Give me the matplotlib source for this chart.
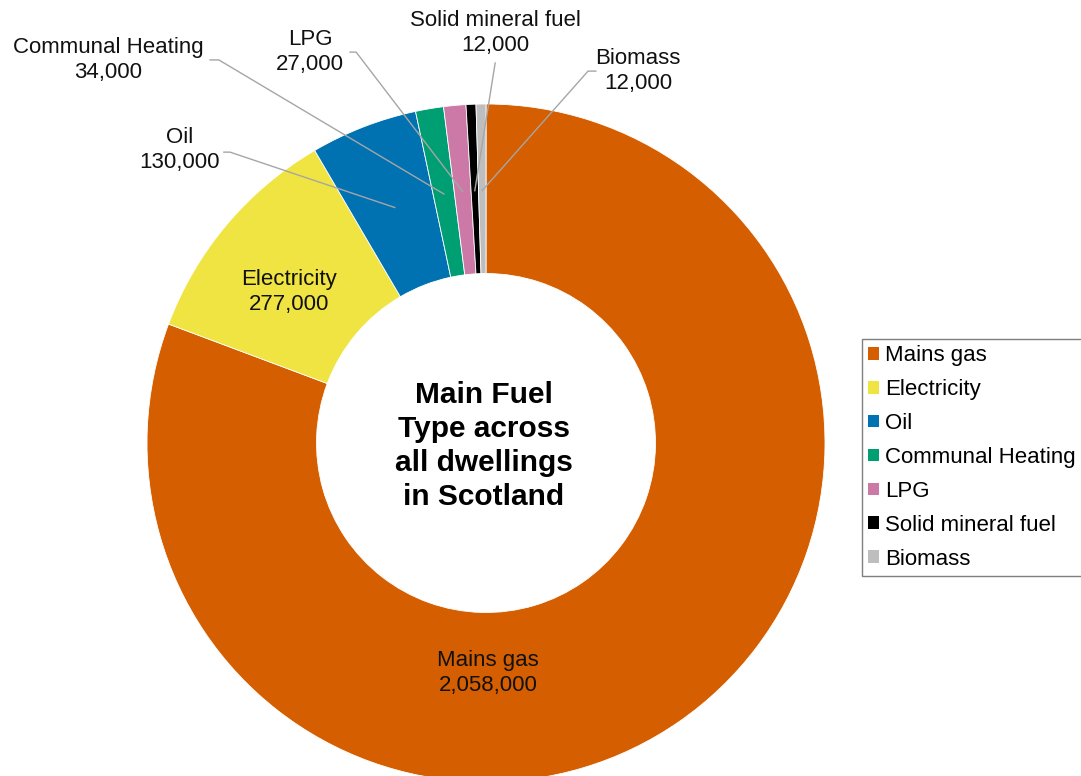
"""Donut chart: main heating fuel type across all dwellings in Scotland."""
import numpy as np
import matplotlib
matplotlib.use("Agg")
import matplotlib.pyplot as plt

plt.rcParams["font.family"] = ["Liberation Sans", "DejaVu Sans"]

fuels = ["Mains gas", "Electricity", "Oil", "Communal Heating", "LPG",
         "Solid mineral fuel", "Biomass"]
dwellings = [2058000, 277000, 130000, 34000, 27000, 12000, 12000]
colours = ["#D55E00", "#F0E442", "#0072B2", "#009E73", "#CC79A7",
           "#000000", "#BEBEBE"]
centre_title = "Main Fuel\nType across\nall dwellings\nin Scotland"

# label placement in pie units (radius 1 = outer edge)
label_pos = {
    "Mains gas": (0.006, -0.679),
    "Electricity": (-0.581, 0.445),
    "Oil": (-0.903, 0.864),
    "Communal Heating": (-1.115, 1.130),
    "LPG": (-0.519, 1.153),
    "Solid mineral fuel": (0.027, 1.209),
    "Biomass": (0.448, 1.097),
}
# where each leader line leaves its label (start, elbow), pie units
leader_start = {
    "Oil": [(-0.773, 0.858), (-0.755, 0.858)],
    "Communal Heating": [(-0.814, 1.130), (-0.788, 1.130)],
    "LPG": [(-0.401, 1.153), (-0.383, 1.153)],
    "Solid mineral fuel": [(0.027, 1.121)],
    "Biomass": [(0.324, 1.097), (0.301, 1.097)],
}

W, H = 1081, 776
cx, cy, R = 486, 443, 339
fig = plt.figure(figsize=(W / 100, H / 100), dpi=100)
ax = fig.add_axes([(cx - R) / W, (H - cy - R) / H, 2 * R / W, 2 * R / H])

wedges, _ = ax.pie(dwellings, colors=colours, startangle=90, counterclock=False,
                   radius=1.0, wedgeprops=dict(width=0.5, edgecolor="white", linewidth=0.6))
# pie() resets the limits, so pin them afterwards
ax.set_xlim(-1, 1)
ax.set_ylim(-1, 1)
ax.set_aspect("equal")
ax.axis("off")

total = sum(dwellings)
cum = np.cumsum([0] + dwellings[:-1])
for name, val, c0, w in zip(fuels, dwellings, cum, wedges):
    x, y = label_pos[name]
    ax.text(x, y, f"{name}\n{val:,}", ha="center", va="center", fontsize=16,
            linespacing=1.25, color="#111111")
    if name in leader_start:
        # leader line ends mid-ring at the wedge's mid angle
        frac = (c0 + val / 2) / total
        ang = np.deg2rad(90 - frac * 360)
        ex, ey = 0.745 * np.cos(ang), 0.745 * np.sin(ang)
        pts = leader_start[name] + [(ex, ey)]
        ax.plot([p[0] for p in pts], [p[1] for p in pts], color="#A6A6A6",
                linewidth=1.0, clip_on=False, zorder=5)

ax.text(-0.006, -0.009, centre_title, ha="center", va="center", fontsize=21.5,
        fontweight="bold", linespacing=1.27, color="#000000")

leg = fig.legend(wedges, fuels, loc="upper left",
                 bbox_to_anchor=(862 / W, 1 - 339 / H), fontsize=16,
                 frameon=True, fancybox=False, framealpha=1, edgecolor="#7F7F7F",
                 handlelength=0.5, handleheight=0.5, handletextpad=0.25,
                 labelspacing=0.58, borderpad=0.28, borderaxespad=0)
leg.get_frame().set_linewidth(1.0)
for h in leg.legend_handles:
    h.set_edgecolor("none")

fig.savefig("out.png", dpi=100)
